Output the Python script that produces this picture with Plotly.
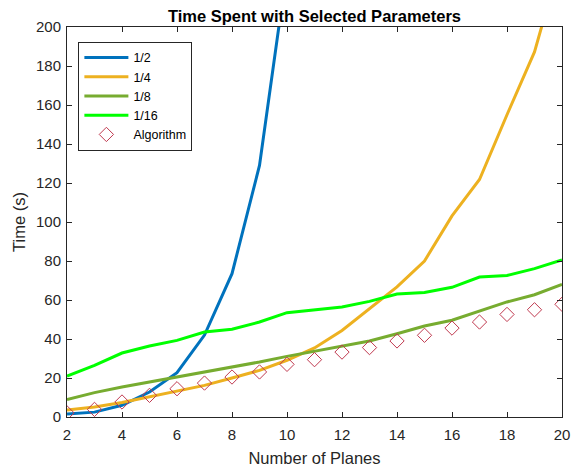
import plotly.graph_objects as go

planes = list(range(2, 21))
half_x = list(range(2, 11))
half = [1.5, 2.5, 6.0, 12.8, 22.7, 42.0, 73.5, 129.0, 230.0]
quarter = [3.6, 5.1, 7.4, 10.3, 13.2, 16.2, 20.0, 23.9, 29.1, 35.4, 44.4, 55.6,
           66.7, 80.0, 103.1, 121.8, 155.0, 187.2, 237.0]
eighth = [8.9, 12.5, 15.4, 17.9, 20.5, 22.9, 25.6, 28.2, 31.1, 33.7, 36.4, 39.0,
          42.7, 46.7, 49.6, 54.5, 59.0, 62.7, 68.0]
sixteenth = [21.0, 26.5, 32.8, 36.4, 39.3, 43.6, 45.0, 48.7, 53.5, 55.0, 56.4, 59.3,
             63.1, 63.8, 66.5, 71.8, 72.6, 76.1, 80.5]
algorithm = [2.1, 3.9, 7.7, 11.1, 14.5, 17.4, 20.5, 23.1, 27.0, 29.4, 33.3, 35.6,
             39.0, 41.9, 45.6, 48.7, 52.6, 55.0, 57.8]

FONT = "Liberation Sans, Arial"

fig = go.Figure()
fig.add_trace(go.Scatter(x=half_x, y=half, mode="lines", name="1/2",
                         line=dict(color="#0072BD", width=3)))
fig.add_trace(go.Scatter(x=planes, y=quarter, mode="lines", name="1/4",
                         line=dict(color="#EDB120", width=3)))
fig.add_trace(go.Scatter(x=planes, y=eighth, mode="lines", name="1/8",
                         line=dict(color="#77AC30", width=3)))
fig.add_trace(go.Scatter(x=planes, y=sixteenth, mode="lines", name="1/16",
                         line=dict(color="#00FF00", width=3)))
fig.add_trace(go.Scatter(x=planes, y=algorithm, mode="markers", name="Algorithm",
                         marker=dict(symbol="diamond-open", size=11,
                                     color="#C0394F", line=dict(width=1))))

axis_common = dict(showgrid=False, zeroline=False, showline=True, linecolor="#262626",
                   linewidth=1, mirror="ticks", ticks="inside", ticklen=5,
                   tickcolor="#262626", automargin=False,
                   tickfont=dict(family=FONT, size=15, color="#262626"))

fig.update_layout(
    width=577, height=467,
    margin=dict(l=67, r=15, t=27, b=50),
    paper_bgcolor="white", plot_bgcolor="white",
    title=dict(text="<b>Time Spent with Selected Parameters</b>",
               x=0.545, xanchor="center", y=0.965, yanchor="middle", yref="container",
               font=dict(family=FONT, size=16.5, color="black")),
    xaxis=dict(range=[2, 20], tickvals=list(range(2, 21, 2)), ticklabelstandoff=4,
               title=dict(text="Number of Planes", standoff=10,
                          font=dict(family=FONT, size=16.5, color="#262626")),
               **axis_common),
    yaxis=dict(range=[0, 200], tickvals=list(range(0, 201, 20)), ticklabelstandoff=2,
               title=dict(text="Time (s)", standoff=6,
                          font=dict(family=FONT, size=16.5, color="#262626")),
               **axis_common),
    legend=dict(x=0.023, y=0.962, xanchor="left", yanchor="top",
                bgcolor="white", bordercolor="#262626", borderwidth=1,
                font=dict(family=FONT, size=12.5, color="black"),
                itemwidth=44, tracegroupgap=0),
    showlegend=True,
)

fig.write_html("out.html")
